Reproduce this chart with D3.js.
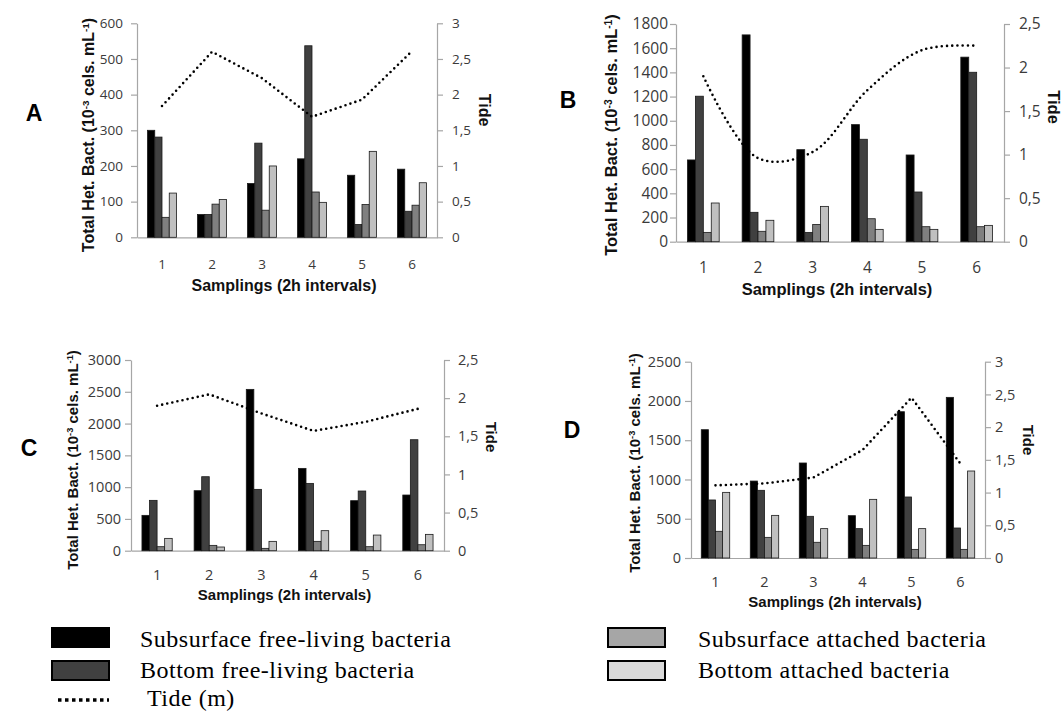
<!DOCTYPE html>
<html>
<head>
<meta charset="utf-8">
<script src="https://cdn.jsdelivr.net/npm/d3@7"></script>
<style>
  body { margin: 0; background: #fff; }
</style>
</head>
<body>
<svg id="fig" width="1064" height="713"></svg>
<script>
// categories and series
const samplings = ["1", "2", "3", "4", "5", "6"];
const seriesNames = ["Subsurface free-living bacteria", "Bottom free-living bacteria",
                     "Subsurface attached bacteria", "Bottom attached bacteria"];

// panel A
const subFreeA = [300, 64, 151, 220, 174, 191];
const botFreeA = [281, 64, 264, 537, 36, 73];
const subAttA  = [56, 93, 76, 127, 92, 90];
const botAttA  = [124, 106, 200, 98, 241, 153];
const tideA    = [1.84, 2.6, 2.23, 1.69, 1.93, 2.61];

// panel B
const subFreeB = [676, 1710, 761, 968, 717, 1526];
const botFreeB = [1203, 243, 77, 847, 411, 1401];
const subAttB  = [77, 86, 143, 190, 124, 124];
const botAttB  = [320, 177, 292, 102, 102, 135];
const tideB    = [1.9, 0.96, 1.03, 1.74, 2.2, 2.25];

// panel C
const subFreeC = [556, 944, 2538, 1295, 787, 876];
const botFreeC = [792, 1164, 965, 1059, 939, 1746];
const subAttC  = [63, 84, 37, 147, 63, 94];
const botAttC  = [194, 58, 147, 315, 246, 257];
const tideC    = [1.9, 2.05, 1.8, 1.57, 1.69, 1.86];

// panel D
const subFreeD = [1634, 980, 1210, 539, 1863, 2046];
const botFreeD = [739, 862, 531, 374, 777, 382];
const subAttD  = [340, 263, 200, 161, 110, 110];
const botAttD  = [836, 543, 374, 747, 374, 1108];
const tideD    = [1.11, 1.14, 1.23, 1.65, 2.45, 1.44];

// axis ranges
const bactMax  = { A: 600, B: 1800, C: 3000, D: 2500 };
const bactStep = { A: 100, B: 200, C: 500, D: 500 };
const tideMax  = { A: 3, B: 2.5, C: 2.5, D: 3 };

const barFill = ["#000000", "#404040", "#808080", "#c0c0c0"];
const legendFill = ["#000000", "#404040", "#a6a6a6", "#d9d9d9"];

const panels = [
  { id: "A", data: [subFreeA, botFreeA, subAttA, botAttA], tide: tideA, curve: d3.curveLinear,
    x0: 137, x1: 437, y0: 23.3, y1: 237.3, fs: 13.5, tfs: 16,
    letter: [34, 121], yTitle: [88, 135], tideLab: [485, 110],
    lPad: 14, rPad: 15, xLabY: 264, xTitleY: 291 },
  { id: "B", data: [subFreeB, botFreeB, subAttB, botAttB], tide: tideB, curve: d3.curveCatmullRom,
    x0: 676, x1: 1004, y0: 24, y1: 241.7, fs: 15.5, tfs: 16.5,
    letter: [568, 108], yTitle: [611, 135], tideLab: [1054, 107],
    lPad: 8, rPad: 15, xLabY: 268, xTitleY: 295 },
  { id: "C", data: [subFreeC, botFreeC, subAttC, botAttC], tide: tideC, curve: d3.curveLinear,
    x0: 131, x1: 444, y0: 360, y1: 550.7, fs: 14.5, tfs: 15,
    letter: [29, 456], yTitle: [73, 460], tideLab: [491, 437],
    lPad: 10, rPad: 14, xLabY: 575, xTitleY: 600 },
  { id: "D", data: [subFreeD, botFreeD, subAttD, botAttD], tide: tideD, curve: d3.curveLinear,
    x0: 691, x1: 985, y0: 361.7, y1: 558, fs: 14.5, tfs: 15,
    letter: [572, 438], yTitle: [635, 463], tideLab: [1028, 440],
    lPad: 10, rPad: 10, xLabY: 582, xTitleY: 607 }
];

const svg = d3.select("#fig");
const comma = d => String(d).replace(".", ",");

panels.forEach(p => {
  const g = svg.append("g").attr("class", "panel-" + p.id);

  const x = d3.scaleBand()
      .domain(samplings)
      .range([p.x0, p.x1])
      .paddingInner(0.42)
      .paddingOuter(0.21);
  const xs = d3.scaleBand()
      .domain(d3.range(seriesNames.length))
      .range([0, x.bandwidth()]);
  const y = d3.scaleLinear().domain([0, bactMax[p.id]]).range([p.y1, p.y0]);
  const yt = d3.scaleLinear().domain([0, tideMax[p.id]]).range([p.y1, p.y0]);

  // left axis
  const left = g.append("g")
      .attr("transform", `translate(${p.x0},0)`)
      .call(d3.axisLeft(y)
        .tickValues(d3.range(0, bactMax[p.id] + 1, bactStep[p.id]))
        .tickFormat(d3.format("d"))
        .tickSize(6).tickSizeOuter(0).tickPadding(p.lPad - 6));
  // right axis
  const right = g.append("g")
      .attr("transform", `translate(${p.x1},0)`)
      .call(d3.axisRight(yt)
        .tickValues(d3.range(0, tideMax[p.id] + 0.01, 0.5))
        .tickFormat(comma)
        .tickSize(6).tickSizeOuter(0).tickPadding(p.rPad - 6));
  // bottom axis
  const bottom = g.append("g")
      .attr("transform", `translate(0,${p.y1})`)
      .call(d3.axisBottom(x).tickSize(0).tickSizeOuter(0).tickPadding(0));
  bottom.selectAll(".tick text").attr("y", p.xLabY - p.y1).attr("dy", "0.35em");

  [left, right, bottom].forEach(a => {
    a.selectAll("path.domain").attr("stroke", "#a6a6a6").attr("stroke-width", 1.2);
    a.selectAll(".tick line").attr("stroke", "#a6a6a6").attr("stroke-width", 1.2);
    a.selectAll(".tick text")
      .attr("fill", "#3a3a3a")
      .style("font-family", "'Open Sans', sans-serif")
      .style("font-size", p.fs + "px");
  });

  // bars
  seriesNames.forEach((name, si) => {
    g.append("g").selectAll("rect")
      .data(p.data[si])
      .join("rect")
      .attr("x", (d, i) => x(samplings[i]) + xs(si))
      .attr("y", d => y(d))
      .attr("width", xs.bandwidth())
      .attr("height", d => p.y1 - y(d))
      .attr("fill", barFill[si])
      .attr("stroke", "#1a1a1a")
      .attr("stroke-width", 0.8);
  });

  // tide line
  const line = d3.line()
      .x((d, i) => x(samplings[i]) + x.bandwidth() / 2)
      .y(d => yt(d))
      .curve(p.curve);
  g.append("path")
    .datum(p.tide)
    .attr("d", line)
    .attr("fill", "none")
    .attr("stroke", "#000")
    .attr("stroke-width", 2.6)
    .attr("stroke-linecap", "round")
    .attr("stroke-dasharray", "0 5.2");

  // titles
  g.append("text")
    .attr("x", (p.x0 + p.x1) / 2 - 3)
    .attr("y", p.xTitleY)
    .attr("text-anchor", "middle")
    .style("font-family", "'Liberation Sans', Arial, sans-serif")
    .style("font-weight", "bold")
    .style("font-size", p.tfs + "px")
    .attr("fill", "#111")
    .text("Samplings (2h intervals)");

  const yt1 = g.append("text")
    .attr("transform", `translate(${p.yTitle[0]},${p.yTitle[1]}) rotate(-90)`)
    .attr("text-anchor", "middle")
    .attr("dy", "0.35em")
    .style("font-family", "'Liberation Sans', Arial, sans-serif")
    .style("font-weight", "bold")
    .style("font-size", p.tfs + "px")
    .attr("fill", "#111");
  yt1.append("tspan").text("Total Het. Bact. (10");
  yt1.append("tspan").attr("baseline-shift", "super").style("font-size", "62%").text("-3");
  yt1.append("tspan").text(" cels. mL");
  yt1.append("tspan").attr("baseline-shift", "super").style("font-size", "62%").text("-1");
  yt1.append("tspan").text(")");

  g.append("text")
    .attr("transform", `translate(${p.tideLab[0]},${p.tideLab[1]}) rotate(90)`)
    .attr("text-anchor", "middle")
    .attr("dy", "0.35em")
    .style("font-family", "'Liberation Sans', Arial, sans-serif")
    .style("font-weight", "bold")
    .style("font-size", p.tfs + "px")
    .attr("fill", "#111")
    .text("Tide");

  g.append("text")
    .attr("x", p.letter[0])
    .attr("y", p.letter[1])
    .attr("text-anchor", "middle")
    .style("font-family", "'Liberation Sans', Arial, sans-serif")
    .style("font-weight", "bold")
    .style("font-size", "23px")
    .attr("fill", "#000")
    .text(p.id);
});

// legend
const legendItems = [
  { name: seriesNames[0], fill: legendFill[0], bx: 52, by: 628, tx: 140, ty: 647 },
  { name: seriesNames[1], fill: legendFill[1], bx: 52, by: 661, tx: 140, ty: 678 },
  { name: seriesNames[2], fill: legendFill[2], bx: 608, by: 628, tx: 698, ty: 647 },
  { name: seriesNames[3], fill: legendFill[3], bx: 608, by: 661, tx: 698, ty: 678 }
];
const legend = svg.append("g").attr("class", "legend");
legend.selectAll("rect")
  .data(legendItems)
  .join("rect")
  .attr("x", d => d.bx)
  .attr("y", d => d.by)
  .attr("width", 57)
  .attr("height", 19)
  .attr("fill", d => d.fill)
  .attr("stroke", "#000")
  .attr("stroke-width", 2);
legend.selectAll("text.item")
  .data(legendItems)
  .join("text")
  .attr("class", "item")
  .attr("x", d => d.tx)
  .attr("y", d => d.ty)
  .style("font-family", "'Liberation Serif', 'Times New Roman', serif")
  .style("font-size", "24px")
  .style("letter-spacing", "0.5px")
  .attr("fill", "#000")
  .text(d => d.name);

legend.append("line")
  .attr("x1", 58).attr("x2", 109)
  .attr("y1", 700).attr("y2", 700)
  .attr("stroke", "#000")
  .attr("stroke-width", 3.5)
  .attr("stroke-dasharray", "3.5 3.5");
legend.append("text")
  .attr("x", 147)
  .attr("y", 706)
  .style("font-family", "'Liberation Serif', 'Times New Roman', serif")
  .style("font-size", "24px")
  .style("letter-spacing", "0.5px")
  .attr("fill", "#000")
  .text("Tide (m)");
</script>
</body>
</html>
